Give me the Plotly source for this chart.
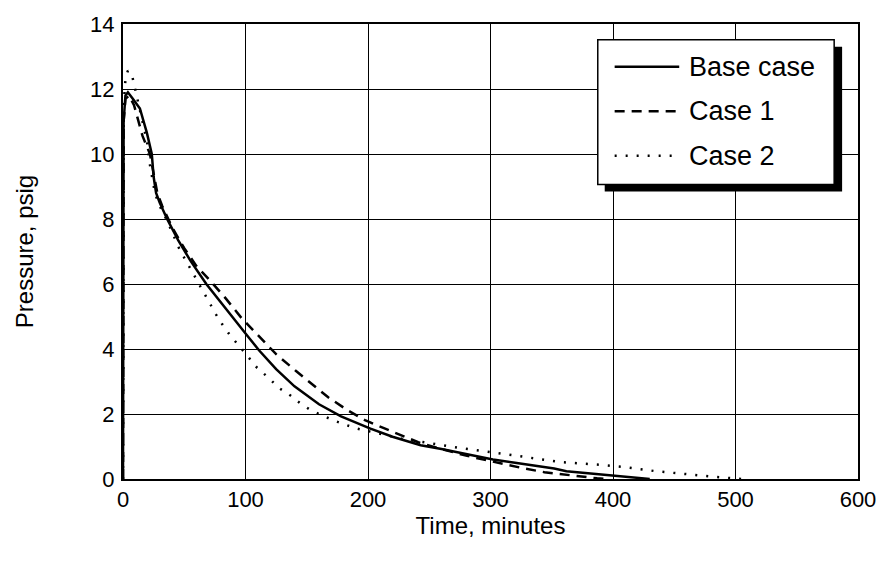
import plotly.graph_objects as go

# Pressure decay curves (time in minutes, pressure in psig)
base_t = [0, 0.5, 2, 4, 8, 13.8, 19.5, 23.5, 25, 27, 30, 36, 45, 55, 68, 80, 90,
          101, 111, 125, 140, 160, 178, 202, 220, 243, 260, 280, 302, 320, 340,
          352, 362, 380, 400, 415, 430]
base_p = [0, 11.0, 11.8, 11.9, 11.7, 11.4, 10.65, 10.0, 9.3, 8.8, 8.5, 8.0, 7.35,
          6.72, 6.0, 5.42, 4.94, 4.43, 3.96, 3.38, 2.85, 2.3, 1.93, 1.55, 1.3,
          1.04, 0.92, 0.77, 0.6, 0.5, 0.4, 0.32, 0.24, 0.18, 0.12, 0.06, 0]

case1_t = [0, 0.5, 2, 5, 9, 16, 22, 25, 28, 32, 40, 50, 60, 72, 84, 97, 111, 125,
           141, 154, 168, 184, 198, 214, 227, 241, 260, 280, 300, 314, 328, 344,
           358, 373, 387, 395]
case1_p = [0, 11.0, 11.7, 11.8, 11.5, 10.55, 10.0, 9.4, 8.8, 8.4, 7.75, 7.1, 6.55,
           6.07, 5.55, 4.94, 4.39, 3.84, 3.33, 2.92, 2.5, 2.1, 1.8, 1.55, 1.34,
           1.13, 0.92, 0.72, 0.55, 0.43, 0.32, 0.21, 0.15, 0.07, 0.02, 0]

case2_t = [0, 0.5, 2, 4, 7.5, 12, 14, 19.5, 22, 23.5, 26, 30, 36, 46, 52, 60, 65,
           76, 81, 88, 95, 109.5, 119, 127, 137, 145, 154, 172, 190, 210, 230,
           251, 276, 302, 330, 357, 392, 409, 435, 460, 485, 505]
case2_p = [0, 11.5, 12.3, 12.57, 12.4, 11.65, 11.3, 10.4, 9.67, 9.33, 8.8, 8.4,
           7.95, 7.08, 6.68, 6.13, 5.77, 5.06, 4.76, 4.39, 4.09, 3.42, 3.11, 2.81,
           2.56, 2.32, 2.1, 1.8, 1.56, 1.38, 1.22, 1.1, 0.95, 0.82, 0.67, 0.52,
           0.43, 0.37, 0.24, 0.14, 0.06, 0]

series_names = ["Base case", "Case 1", "Case 2"]
series_dash = ["solid", "10px,7px", "2px,9px"]

x_ticks = [0, 100, 200, 300, 400, 500, 600]
y_ticks = [0, 2, 4, 6, 8, 10, 12, 14]

FONT = "Arial, Liberation Sans, sans-serif"

# plot-area geometry in pixels, used to place the boxed key in paper units
PL, PR, PT, PB = 123, 863, 20, 479


def px_x(px):
    return (px - PL) / (PR - PL)


def px_y(py):
    return (PB - py) / (PB - PT)


fig = go.Figure()
for t, p, name, dash in zip([base_t, case1_t, case2_t],
                            [base_p, case1_p, case2_p],
                            series_names, series_dash):
    fig.add_trace(go.Scatter(x=t, y=p, mode="lines", name=name, showlegend=False,
                             line=dict(color="black", width=2.5, dash=dash)))

# boxed key with a drop shadow
shapes = [
    dict(type="rect", xref="paper", yref="paper",
         x0=px_x(608), x1=px_x(847), y0=px_y(189), y1=px_y(43),
         fillcolor="black", line=dict(width=0), layer="above"),
    dict(type="rect", xref="paper", yref="paper",
         x0=px_x(601), x1=px_x(839), y0=px_y(182), y1=px_y(36),
         fillcolor="white", line=dict(color="black", width=1.5), layer="above"),
]
annotations = []
for row_y, name, dash in zip([63, 108, 153], series_names, series_dash):
    shapes.append(dict(type="line", xref="paper", yref="paper",
                       x0=px_x(618), x1=px_x(683), y0=px_y(row_y), y1=px_y(row_y),
                       line=dict(color="black", width=2.5, dash=dash),
                       layer="above"))
    annotations.append(dict(xref="paper", yref="paper", x=px_x(691), y=px_y(row_y),
                            xanchor="left", yanchor="middle", showarrow=False,
                            text=name, font=dict(family=FONT, size=27,
                                                 color="black")))

fig.update_layout(
    width=888, height=561,
    margin=dict(l=PL, r=888 - PR, t=PT, b=561 - PB),
    paper_bgcolor="white", plot_bgcolor="white",
    font=dict(family=FONT, size=22, color="black"),
    showlegend=False,
    shapes=shapes,
    annotations=annotations,
    xaxis=dict(
        range=[0, 600], tickvals=x_ticks, ticktext=[str(v) for v in x_ticks],
        showgrid=True, gridcolor="black", gridwidth=1,
        showline=True, linecolor="black", linewidth=2, mirror=True,
        zeroline=False, ticks="", ticklabelstandoff=0,
        title=dict(text="Time, minutes", font=dict(size=24), standoff=0),
    ),
    yaxis=dict(
        range=[0, 14], tickvals=y_ticks, ticktext=[str(v) for v in y_ticks],
        showgrid=True, gridcolor="black", gridwidth=1,
        showline=True, linecolor="black", linewidth=2, mirror=True,
        zeroline=False, ticks="", ticklabelstandoff=2,
        title=dict(text="Pressure, psig", font=dict(size=24), standoff=50),
    ),
)

fig.write_html("out.html")
